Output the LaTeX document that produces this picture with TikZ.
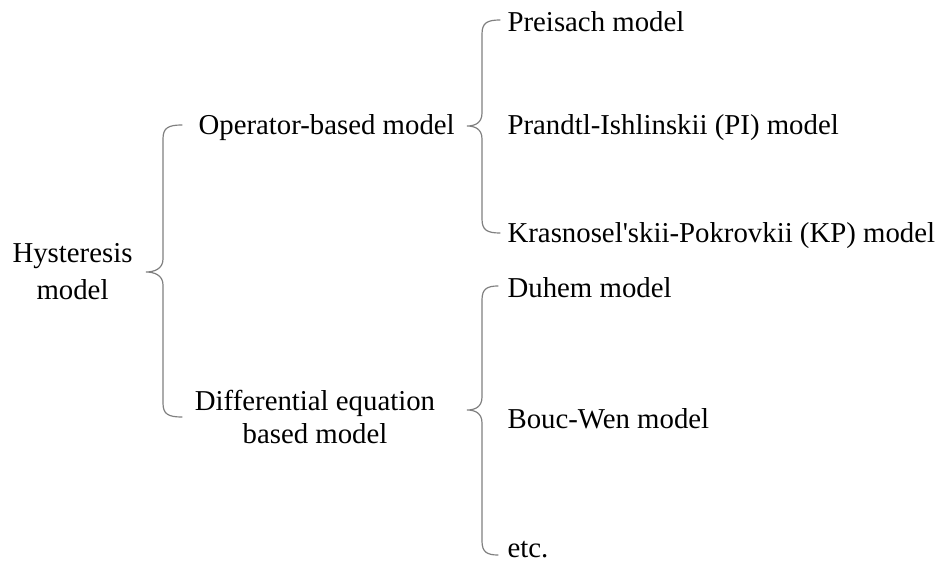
\documentclass[tikz,border=0pt]{standalone}
\usepackage{fontspec}
\setmainfont{Liberation Serif}[Ligatures=TeXOff]
\usepackage{tikz}

\definecolor{bracegray}{RGB}{128,128,128}

% curly brace: tip x, spine x, point x, top y, middle y, bottom y
\newcommand{\curly}[6]{%
  \draw[brace] (#1,#4) .. controls (#2+5,#4) and (#2,#4+3) .. (#2,#4+14)
    -- (#2,#5-13) .. controls (#2,#5-3) and (#3+8,#5) .. (#3,#5)
    .. controls (#3+8,#5) and (#2,#5+3) .. (#2,#5+13)
    -- (#2,#6-14) .. controls (#2,#6-3) and (#2+5,#6) .. (#1,#6);}

\begin{document}
\begin{tikzpicture}[x=1bp, y=-1bp, line width=1.2bp,
  brace/.style={draw=bracegray, line cap=round},
  leaf/.style={inner sep=0pt, anchor=base west, font=\fontsize{28.8bp}{36bp}\selectfont},
  branch/.style={leaf, anchor=base, align=center}]
\useasboundingbox (0,0) rectangle (941,563);

% root (base is the last line)
\node[branch] (hyst) at (72.5,299) {Hysteresis\\model};

% second level
\node[leaf] (oper) at (198,135) {Operator-based model};
\node[branch] (diff) at (315,443) {Differential equation\\[-3bp]based model};

% operator based
\node[leaf] (preis) at (507,32) {Preisach model};
\node[leaf] (pi) at (507,135) {Prandtl-Ishlinskii (PI) model};
\node[leaf] (kp) at (507,243) {Krasnosel'skii-Pokrovkii (KP) model};

% differential equation based
\node[leaf] (duhem) at (507,297) {Duhem model};
\node[leaf] (bw) at (507,428) {Bouc-Wen model};
\node[leaf] (etc) at (507,557) {etc.};

\curly{182}{163}{146}{125}{272}{417}
\curly{500}{482}{467}{20}{126}{233}
\curly{498}{482}{467}{286}{410}{555}

\end{tikzpicture}
\end{document}
